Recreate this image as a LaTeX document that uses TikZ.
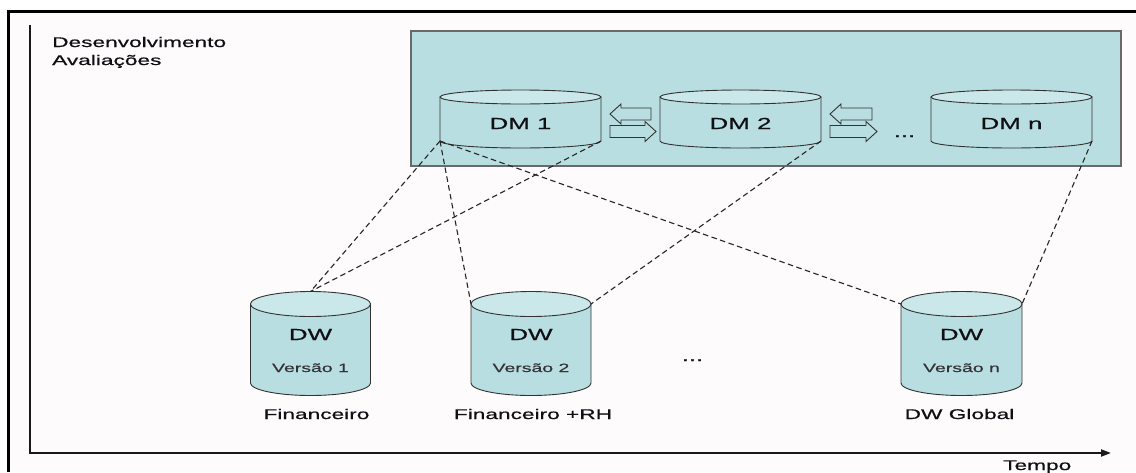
\documentclass[tikz,border=0pt]{standalone}
\usepackage{fontspec}
\setmainfont{Liberation Sans}[FakeStretch=1.62,FakeBold=0.6,BoldFont=Liberation Sans]
\usetikzlibrary{arrows.meta}
\definecolor{tealbody}{RGB}{185,222,225}
\definecolor{tealtop}{RGB}{202,231,234}
\definecolor{boxline}{RGB}{105,105,105}
\definecolor{cylline}{RGB}{50,50,50}
\definecolor{paper}{RGB}{253,251,252}
\definecolor{txt}{RGB}{15,15,20}

\newcommand\mycyl[6]{%
  \path[cylbody] ({#2-#5},#3) -- ({#2-#5},#4)
    .. controls ({#2-#5},{#4+0.552*#6}) and ({#2-0.552*#5},{#4+#6}) .. (#2,{#4+#6})
    .. controls ({#2+0.552*#5},{#4+#6}) and ({#2+#5},{#4+0.552*#6}) .. ({#2+#5},#4)
    -- ({#2+#5},#3) -- cycle;
  \path[cyltop] (#2,#3) ellipse [x radius=#5, y radius=#6];
  \node[cylnode, minimum width={2*#5}, minimum height={#4-#3}] (#1) at (#2,{(#3+#4)/2}) {};
  \coordinate (#1-top) at (#2,{#3-#6});
}
\newcommand\leftarr[3]{% tip x, y, tail x
  \path[blockarr] (#1,#2) -- ({#1+11},{#2-10}) -- ({#1+11},{#2-6}) -- (#3,{#2-6})
    -- (#3,{#2+6}) -- ({#1+11},{#2+6}) -- ({#1+11},{#2+10}) -- cycle;
}
\newcommand\rightarr[3]{% tail x, y, tip x
  \path[blockarr] (#3,#2) -- ({#3-11},{#2-10}) -- ({#3-11},{#2-6}) -- (#1,{#2-6})
    -- (#1,{#2+6}) -- ({#3-11},{#2+6}) -- ({#3-11},{#2+10}) -- cycle;
}

\begin{document}
\begin{tikzpicture}[x=1pt,y=-1pt,
  cylbody/.style={fill=tealbody,draw=cylline,line width=0.9pt},
  cyltop/.style={fill=tealtop,draw=cylline,line width=0.9pt},
  cylnode/.style={inner sep=0pt,outer sep=0pt,draw=none},
  blockarr/.style={fill=tealbody,draw=cylline,line width=0.9pt,line join=miter},
  dashlink/.style={draw=black!85,line width=1.1pt,dash pattern=on 5.5pt off 3.5pt},
  lbl/.style={text=txt,inner sep=0pt,font=\fontsize{14}{16}\selectfont},
  big/.style={text=txt,inner sep=0pt,font=\fontsize{16}{18}\selectfont},
  small/.style={text=txt!85,inner sep=0pt,font=\fontsize{12}{14}\selectfont},
]
\useasboundingbox (0,0) rectangle (1136,472);
\fill[white] (0,0) rectangle (1136,472);
\fill[paper] (8.5,11.5) rectangle (1136,472);
\draw[line width=3pt] (8.5,472) -- (8.5,11.5) -- (1136,11.5);

% axes
\coordinate (origin) at (30,453);
\coordinate (yend) at (30,25);
\coordinate (xend) at (1111,453);
\draw[line width=1.3pt,draw=black!90] (origin) -- (yend);
\draw[line width=2pt,draw=black!90,-{Triangle[length=10pt,width=7pt]}] ([xshift=-0.65pt]origin) -- (xend);

% labels top left
\node[lbl,anchor=base west] (desenv) at (52,47) {Desenvolvimento};
\node[lbl,anchor=base west] (aval) at (52,65) {Avaliações};
\node[lbl,anchor=base west] (tempo) at (1003,470) {Tempo};

% DM region
\draw[fill=tealbody,draw=boxline,line width=1.6pt] (411,31) rectangle (1121,166);

\mycyl{dm1}{520.5}{97}{141}{80.5}{7}
\mycyl{dm2}{740.5}{97}{141}{80.5}{7}
\mycyl{dmn}{1011.5}{97}{141}{80.5}{7}
\node[big,anchor=base] (dm1t) at (520.5,129) {DM 1};
\node[big,anchor=base] (dm2t) at (740.5,129) {DM 2};
\node[big,anchor=base] (dmnt) at (1011.5,129) {DM n};

\leftarr{610}{114}{651}
\rightarr{610}{131.5}{656}
\leftarr{830}{114}{872}
\rightarr{830}{131.5}{877}
\node[big,anchor=base] (dots1) at (904.5,137) {...};

% DW cylinders
\mycyl{dw1}{310.5}{304}{383}{60}{12.5}
\mycyl{dw2}{531}{304}{383}{60}{12.5}
\mycyl{dwn}{961.5}{304}{383}{60.5}{12.5}
\node[big,anchor=base] (dw1a) at (310.5,340) {DW};
\node[big,anchor=base] (dw2a) at (531,340) {DW};
\node[big,anchor=base] (dwna) at (961.5,340) {DW};
\node[small,anchor=base] (dw1b) at (310.5,372) {Versão 1};
\node[small,anchor=base] (dw2b) at (531,372) {Versão 2};
\node[small,anchor=base] (dwnb) at (961.5,372) {Versão n};
\node[big,anchor=base] (dots2) at (692.5,361) {...};

\node[lbl,anchor=base] (fin) at (316.5,419) {Financeiro};
\node[lbl,anchor=base] (finrh) at (533,419) {Financeiro +RH};
\node[lbl,anchor=base] (glob) at (959.5,419) {DW Global};

% dashed links
\draw[dashlink] (dm1.south west) -- (dw1-top);
\draw[dashlink] (dm1.south east) -- (dw1-top);
\draw[dashlink] (dm1.south west) -- (dw2.north west);
\draw[dashlink] (dm1.south west) -- (dwn.north west);
\draw[dashlink] (dm2.south east) -- (dw2.north east);
\draw[dashlink] (dmn.south east) -- (dwn.north east);
\end{tikzpicture}
\end{document}
